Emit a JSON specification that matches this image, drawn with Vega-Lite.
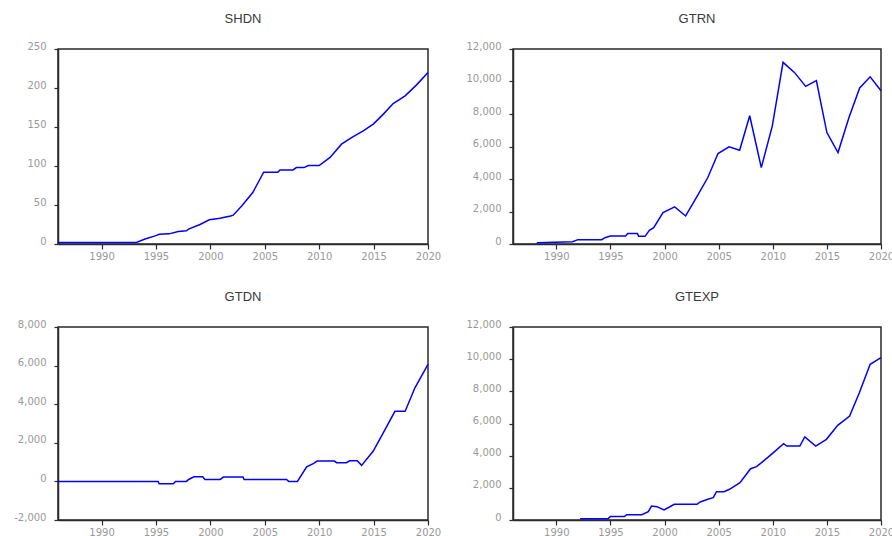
{
  "$schema": "https://vega.github.io/schema/vega-lite/v6.json",
  "padding": {"left": 13, "top": 12, "right": 0, "bottom": 0},
  "background": "white",
  "config": {
    "view": {"stroke": "#2a2a2a", "strokeWidth": 1.5},
    "title": {"font": "Liberation Sans", "fontSize": 13, "fontWeight": "normal", "color": "#3a3a3a", "offset": 15, "anchor": "middle"},
    "axis": {
      "title": null,
      "grid": false,
      "domainColor": "#2a2a2a",
      "domainWidth": 1.5,
      "tickColor": "#2a2a2a",
      "tickWidth": 1.2,
      "labelColor": "#999999",
      "labelFont": "DejaVu Sans",
      "labelFontSize": 10,
      "labelFlush": false,
      "labelOverlap": false,
      "labelBound": false
    },
    "axisX": {
      "values": [1987,1988,1989,1990,1991,1992,1993,1994,1995,1996,1997,1998,1999,2000,2001,2002,2003,2004,2005,2006,2007,2008,2009,2010,2011,2012,2013,2014,2015,2016,2017,2018,2019,2020],
      "labelExpr": "datum.value % 5 === 0 ? '' + datum.value : ''",
      "tickSize": {"condition": {"test": "datum.value % 5 === 0", "value": 5}, "value": 3},
      "labelPadding": 2
    },
    "axisY": {
      "tickSize": 4,
      "labelPadding": 8,
      "labelBaseline": "alphabetic",
      "labelExpr": "datum.value < 0 ? '-' + format(-datum.value, ',') : format(datum.value, ',')"
    }
  },
  "datasets": {
    "shdn": [
      {"t": 1986, "v": 2}, {"t": 1993.2, "v": 2}, {"t": 1994, "v": 6.4}, {"t": 1995, "v": 10.7}, {"t": 1995.3, "v": 12.4}, {"t": 1996.2, "v": 13}, {"t": 1997.05, "v": 16}, {"t": 1997.8, "v": 17}, {"t": 1998, "v": 19}, {"t": 1999.05, "v": 25}, {"t": 1999.9, "v": 31}, {"t": 2000.9, "v": 33}, {"t": 2001.2, "v": 34}, {"t": 2001.86, "v": 36}, {"t": 2002.1, "v": 37}, {"t": 2002.9, "v": 49}, {"t": 2003.9, "v": 66}, {"t": 2004.9, "v": 92}, {"t": 2006.2, "v": 92}, {"t": 2006.4, "v": 95}, {"t": 2007.6, "v": 95}, {"t": 2007.9, "v": 98}, {"t": 2008.6, "v": 98}, {"t": 2009, "v": 100.6}, {"t": 2010, "v": 100.6}, {"t": 2011, "v": 111}, {"t": 2012.05, "v": 128}, {"t": 2013.05, "v": 137}, {"t": 2014.05, "v": 145}, {"t": 2015, "v": 154}, {"t": 2015.9, "v": 166.5}, {"t": 2016.8, "v": 180}, {"t": 2017.9, "v": 190}, {"t": 2018.95, "v": 204}, {"t": 2020, "v": 220}
    ],
    "gtrn": [
      {"t": 1988.2, "v": 82}, {"t": 1991.5, "v": 144}, {"t": 1992, "v": 267}, {"t": 1994.2, "v": 267}, {"t": 1994.5, "v": 390}, {"t": 1995, "v": 490}, {"t": 1996.4, "v": 490}, {"t": 1996.6, "v": 640}, {"t": 1997.5, "v": 640}, {"t": 1997.6, "v": 470}, {"t": 1998.2, "v": 470}, {"t": 1998.6, "v": 840}, {"t": 1999, "v": 1000}, {"t": 1999.86, "v": 1930}, {"t": 2000.94, "v": 2280}, {"t": 2001.95, "v": 1725}, {"t": 2002.94, "v": 2860}, {"t": 2004, "v": 4090}, {"t": 2004.94, "v": 5570}, {"t": 2005.96, "v": 5980}, {"t": 2006.94, "v": 5770}, {"t": 2007.87, "v": 7890}, {"t": 2008.94, "v": 4700}, {"t": 2009.96, "v": 7270}, {"t": 2010.95, "v": 11180}, {"t": 2012, "v": 10560}, {"t": 2013.04, "v": 9700}, {"t": 2014.03, "v": 10050}, {"t": 2015, "v": 6860}, {"t": 2016.03, "v": 5630}, {"t": 2017.04, "v": 7790}, {"t": 2018.03, "v": 9600}, {"t": 2019, "v": 10290}, {"t": 2020, "v": 9430}
    ],
    "gtdn": [
      {"t": 1986, "v": 0}, {"t": 1995.2, "v": 0}, {"t": 1995.3, "v": -120}, {"t": 1996.6, "v": -120}, {"t": 1996.8, "v": 0}, {"t": 1997.8, "v": 0}, {"t": 1998, "v": 100}, {"t": 1998.5, "v": 240}, {"t": 1999.3, "v": 240}, {"t": 1999.5, "v": 100}, {"t": 2000.9, "v": 100}, {"t": 2001.2, "v": 225}, {"t": 2003, "v": 225}, {"t": 2003.1, "v": 100}, {"t": 2007, "v": 100}, {"t": 2007.2, "v": 0}, {"t": 2008, "v": 0}, {"t": 2008.85, "v": 760}, {"t": 2009.5, "v": 935}, {"t": 2009.8, "v": 1055}, {"t": 2011.4, "v": 1055}, {"t": 2011.6, "v": 970}, {"t": 2012.5, "v": 970}, {"t": 2012.8, "v": 1070}, {"t": 2013.5, "v": 1070}, {"t": 2013.9, "v": 830}, {"t": 2014.97, "v": 1575}, {"t": 2015.9, "v": 2525}, {"t": 2016.96, "v": 3630}, {"t": 2017.9, "v": 3630}, {"t": 2018.8, "v": 4850}, {"t": 2020, "v": 6060}
    ],
    "gtexp": [
      {"t": 1992.2, "v": 80}, {"t": 1994.76, "v": 80}, {"t": 1995, "v": 210}, {"t": 1996.3, "v": 210}, {"t": 1996.5, "v": 330}, {"t": 1997.9, "v": 330}, {"t": 1998.5, "v": 520}, {"t": 1998.8, "v": 870}, {"t": 1999.3, "v": 830}, {"t": 1999.96, "v": 620}, {"t": 2000.9, "v": 975}, {"t": 2003, "v": 975}, {"t": 2003.3, "v": 1120}, {"t": 2004, "v": 1285}, {"t": 2004.5, "v": 1390}, {"t": 2004.8, "v": 1760}, {"t": 2005.5, "v": 1760}, {"t": 2006, "v": 1910}, {"t": 2006.97, "v": 2320}, {"t": 2007.95, "v": 3190}, {"t": 2008.5, "v": 3316}, {"t": 2008.96, "v": 3565}, {"t": 2009.98, "v": 4145}, {"t": 2011, "v": 4745}, {"t": 2011.3, "v": 4600}, {"t": 2012.5, "v": 4600}, {"t": 2012.96, "v": 5160}, {"t": 2013.97, "v": 4600}, {"t": 2014.96, "v": 5015}, {"t": 2016, "v": 5886}, {"t": 2017.1, "v": 6466}, {"t": 2018, "v": 7917}, {"t": 2019, "v": 9680}, {"t": 2020, "v": 10093}
    ]
  },
  "columns": 2,
  "bounds": "flush",
  "spacing": {"row": 83, "column": 85},
  "concat": [
    {
      "title": "SHDN",
      "width": 370, "height": 195,
      "data": {"name": "shdn"},
      "mark": {"type": "line", "color": "#0000ff", "strokeWidth": 1.5},
      "encoding": {
        "x": {"field": "t", "type": "quantitative", "scale": {"domain": [1986, 2020], "nice": false, "zero": false}},
        "y": {"field": "v", "type": "quantitative", "scale": {"domain": [0, 250], "nice": false}, "axis": {"values": [0, 50, 100, 150, 200, 250]}}
      }
    },
    {
      "title": "GTRN",
      "width": 368, "height": 195,
      "data": {"name": "gtrn"},
      "mark": {"type": "line", "color": "#0000ff", "strokeWidth": 1.5},
      "encoding": {
        "x": {"field": "t", "type": "quantitative", "scale": {"domain": [1986, 2020], "nice": false, "zero": false}},
        "y": {"field": "v", "type": "quantitative", "scale": {"domain": [0, 12000], "nice": false}, "axis": {"values": [0, 2000, 4000, 6000, 8000, 10000, 12000]}}
      }
    },
    {
      "title": "GTDN",
      "width": 370, "height": 193,
      "data": {"name": "gtdn"},
      "mark": {"type": "line", "color": "#0000ff", "strokeWidth": 1.5},
      "encoding": {
        "x": {"field": "t", "type": "quantitative", "scale": {"domain": [1986, 2020], "nice": false, "zero": false}},
        "y": {"field": "v", "type": "quantitative", "scale": {"domain": [-2000, 8000], "nice": false}, "axis": {"values": [-2000, 0, 2000, 4000, 6000, 8000]}}
      }
    },
    {
      "title": "GTEXP",
      "width": 368, "height": 193,
      "data": {"name": "gtexp"},
      "mark": {"type": "line", "color": "#0000ff", "strokeWidth": 1.5},
      "encoding": {
        "x": {"field": "t", "type": "quantitative", "scale": {"domain": [1986, 2020], "nice": false, "zero": false}},
        "y": {"field": "v", "type": "quantitative", "scale": {"domain": [0, 12000], "nice": false}, "axis": {"values": [0, 2000, 4000, 6000, 8000, 10000, 12000]}}
      }
    }
  ]
}
